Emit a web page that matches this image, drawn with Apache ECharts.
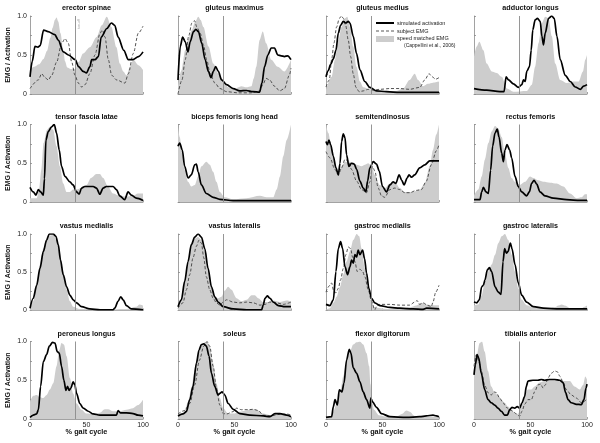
<!DOCTYPE html>
<html><head><meta charset="utf-8">
<script src="https://cdn.jsdelivr.net/npm/echarts@6/dist/echarts.min.js"></script>
<style>html,body{margin:0;padding:0;background:#fff}#c{width:600px;height:443px}</style>
</head><body><div id="c"></div>
<script>
// ---------- labels ----------
const muscles = ['erector spinae','gluteus maximus','gluteus medius','adductor longus',
  'tensor fascia latae','biceps femoris long head','semitendinosus','rectus femoris',
  'vastus medialis','vastus lateralis','gastroc medialis','gastroc lateralis',
  'peroneus longus','soleus','flexor digitorum','tibialis anterior'];
const seriesNames = ['simulated activation','subject EMG','speed matched EMG'];
const legendNote = '(Cappellini et al., 2006)';
const yTickValues = [0, 0.5, 1.0];
const yTickText = ['0', '0.5', '1.0'];
const xTickValues = [0, 50, 100];
const TOE_OFF = 40;
const yLabel = 'EMG / Activation';
const xLabel = '% gait cycle';

// ---------- data: [% gait cycle, value] ----------
const esEmg = [[0,0.32],[4,0.35],[8,0.38],[12,0.45],[15,0.55],[18,0.72],[20,0.85],[22,0.95],[23.5,0.98],[25,0.93],[27,0.78],[29.5,0.56],[31,0.42],[33,0.34],[36,0.32],[40,0.32],[43,0.41],[47,0.52],[53,0.6],[59,0.73],[63.5,0.88],[68,0.99],[72,0.86],[76.5,0.6],[79.5,0.39],[82.5,0.29],[85.5,0.24],[88.5,0.35],[91.5,0.44],[96,0.37],[100,0.31]];
const esSim = [[0,0.22],[2,0.42],[4.4,0.61],[7,0.6],[9,0.62],[12,0.82],[16,0.8],[22,0.76],[25,0.69],[29.5,0.54],[34,0.5],[40,0.44],[43,0.35],[47,0.29],[50,0.27],[53,0.35],[54.6,0.44],[57.5,0.44],[60.5,0.48],[63,0.73],[68,0.84],[72,0.91],[75,0.88],[78,0.73],[83,0.56],[87,0.44],[91,0.44],[96,0.48],[100,0.54]];
const esSubj = [[0,0.07],[7.4,0.18],[10.3,0.26],[13.3,0.21],[16.2,0.18],[19.2,0.24],[23.6,0.41],[28,0.65],[31,0.71],[33.9,0.65],[36.9,0.41],[39.8,0.24],[42.8,0.14],[45.7,0.09],[48.7,0.12],[53,0.26],[57.5,0.5],[62,0.78],[64,0.82],[66.4,0.73],[69.3,0.44],[72.3,0.24],[76.7,0.18],[84,0.14],[87,0.26],[91.4,0.52],[95.9,0.78],[100,0.87]];

const gmaxEmg = [[0,0.1],[3,0.3],[6.4,0.56],[9,0.7],[12.3,0.82],[15,0.92],[18,0.99],[20,0.95],[22.5,0.86],[27,0.61],[31.3,0.39],[35.7,0.26],[40,0.18],[44.4,0.085],[50.3,0.05],[53.2,0.085],[56,0.1],[60.5,0.085],[65,0.1],[67,0.2],[69.3,0.35],[72.2,0.69],[75,0.8],[78,0.65],[82.5,0.44],[88.3,0.35],[94.2,0.29],[100,0.44]];
const gmaxSim = [[0,0.18],[2,0.61],[4.1,0.73],[6.4,0.67],[8.8,0.54],[10.8,0.67],[13.7,0.8],[15.8,0.83],[18.1,0.8],[21,0.65],[24,0.44],[26.9,0.29],[29.2,0.21],[31.3,0.29],[33.3,0.35],[35.7,0.29],[38.6,0.18],[43,0.12],[48.8,0.07],[54.7,0.04],[60.5,0.045],[66.4,0.03],[72.2,0.025],[74.3,0.14],[76.6,0.35],[79.5,0.5],[82.5,0.59],[85.4,0.59],[88.3,0.5],[91.2,0.49],[94.2,0.48],[97,0.49],[100,0.44]];
const gmaxSubj = [[0,0],[3.5,0.18],[6.4,0.44],[9.4,0.74],[12.3,0.91],[14.6,0.94],[16.7,0.86],[19.6,0.78],[22.5,0.63],[25.4,0.44],[28.4,0.26],[32.7,0.14],[37.1,0.07],[43,0.03],[53.2,0.015],[65,0.015],[72.2,0.04],[75.1,0.12],[78,0.2],[81,0.18],[85.4,0.1],[90,0.04],[94.2,0.07],[98.5,0.24],[100,0.33]];

const gmedEmg = [[0,0.05],[5,0.22],[7.9,0.44],[10.9,0.69],[13.8,0.86],[16.8,0.97],[18.8,0.99],[21.2,0.86],[24.1,0.61],[27,0.35],[30,0.16],[33,0.085],[38.8,0.06],[44.7,0.04],[62.4,0.04],[68.2,0.07],[74,0.18],[78.5,0.26],[81.5,0.18],[85.9,0.1],[90.3,0.13],[94.7,0.145],[100,0.16]];
const gmedSim = [[0,0.22],[2,0.3],[4.1,0.38],[6.5,0.45],[8.8,0.56],[10.9,0.78],[12.9,0.88],[15.3,0.93],[17.4,0.91],[19.7,0.93],[21.2,0.91],[24.1,0.74],[27,0.52],[30,0.31],[34.4,0.16],[38.8,0.085],[44.7,0.04],[53.5,0.03],[65.3,0.02],[100,0.02]];
const gmedSubj = [[0,0.09],[2.9,0.18],[5,0.44],[7,0.65],[9.4,0.86],[11.8,0.97],[13.8,1.0],[15.3,0.97],[17.4,0.88],[19.7,0.69],[21.8,0.48],[24.1,0.26],[26.5,0.085],[29.4,0.03],[33,0.04],[37.4,0.06],[41.8,0.05],[47.6,0.06],[56.5,0.07],[65.3,0.07],[74,0.06],[83,0.085],[87.4,0.18],[91.2,0.26],[94,0.22],[97,0.19],[100,0.21]];

const addEmg = [[0,0.48],[2.4,0.61],[4.7,0.67],[8.3,0.56],[11.2,0.39],[15.7,0.29],[20.1,0.27],[24.6,0.22],[29,0.07],[34.9,0.03],[46.7,0.04],[51.2,0.12],[54.1,0.35],[57.1,0.65],[60.1,0.91],[63,0.99],[66,0.97],[68.9,0.74],[71.9,0.39],[76.3,0.18],[82.2,0.14],[88.2,0.16],[92.6,0.16],[96.4,0.29],[98.5,0.44],[100,0.5]];
const addSim = [[0,0.07],[11.2,0.05],[23,0.03],[26.6,0.03],[28.4,0.22],[30.5,0.18],[34.9,0.13],[39.3,0.085],[42.3,0.12],[43.8,0.18],[45.3,0.16],[46.7,0.29],[49.1,0.35],[50.6,0.56],[52,0.82],[54.1,0.95],[56.2,0.97],[58.6,0.93],[60.1,0.74],[61.5,0.63],[63,0.78],[66,0.97],[68.9,1.0],[71,0.97],[73.4,0.74],[76.3,0.44],[80.8,0.24],[85.2,0.16],[89.6,0.09],[94.1,0.06],[97,0.1],[100,0.12]];

const tflEmg = [[0,0.05],[6,0.05],[8,0.16],[10,0.41],[12,0.76],[15,0.93],[17.6,0.97],[20.6,0.93],[23.5,0.72],[26.5,0.46],[29.4,0.24],[32.4,0.13],[35.3,0.13],[38.2,0.16],[41.2,0.16],[45.6,0.18],[50,0.22],[54,0.31],[58.8,0.36],[61.8,0.36],[64.7,0.31],[69,0.2],[73.5,0.11],[79.4,0.08],[85.3,0.07],[91,0.08],[95.6,0.11],[100,0.11]];
const tflSim = [[0,0.19],[2.9,0.13],[5.3,0.09],[7.4,0.16],[9.4,0.13],[11.8,0.09],[12.8,0.3],[14.1,0.8],[16.2,0.91],[19.1,0.97],[21.5,1.0],[23.5,0.89],[25.9,0.67],[27.9,0.46],[30.9,0.33],[35.3,0.26],[38.2,0.22],[41.2,0.13],[43.5,0.1],[45.6,0.18],[48.5,0.2],[55.9,0.2],[58.8,0.18],[61.8,0.1],[64.7,0.18],[67.6,0.2],[73.5,0.2],[76.5,0.16],[79.4,0.08],[83.8,0.03],[86.8,0.13],[89.7,0.09],[94.1,0.05],[100,0.02]];

const bfEmg = [[0,0.97],[1.5,0.84],[3.8,0.63],[5.9,0.41],[8.9,0.26],[11.8,0.2],[14.8,0.22],[17.8,0.33],[20.7,0.46],[25.1,0.52],[28.1,0.48],[31.1,0.39],[34,0.26],[37,0.13],[41.4,0.06],[48.8,0.035],[60.7,0.05],[72.5,0.08],[78.4,0.06],[84.3,0.06],[87.3,0.16],[90.2,0.33],[93.2,0.59],[96.2,0.8],[100,1.0]];
const bfSim = [[0,0.72],[1.5,0.76],[3.8,0.67],[5.9,0.46],[8.9,0.31],[11.8,0.35],[14.8,0.48],[16.3,0.49],[17.8,0.39],[20.7,0.22],[25.1,0.11],[31.1,0.06],[37,0.035],[48.8,0.017],[100,0.017]];

const stEmg = [[0,1.0],[2.1,0.89],[5,0.67],[7.9,0.5],[10.9,0.35],[13.8,0.46],[16.8,0.52],[21.2,0.52],[27.1,0.48],[31.5,0.46],[34.4,0.48],[37.4,0.5],[40.3,0.46],[43.2,0.35],[47.6,0.22],[52,0.18],[56.5,0.24],[60.9,0.26],[65.3,0.18],[69.7,0.13],[77.1,0.13],[82.9,0.16],[87.4,0.24],[91.8,0.46],[94.7,0.67],[97.6,0.87],[100,1.0]];
const stSim = [[0,0.78],[1.2,0.74],[2.6,0.8],[4.1,0.74],[6.5,0.59],[8.8,0.44],[10.9,0.35],[12.4,0.5],[13.8,0.78],[15.3,0.88],[16.8,0.83],[18.2,0.61],[20.3,0.46],[22.6,0.5],[25,0.49],[27.1,0.42],[30,0.27],[32.9,0.18],[35.3,0.13],[36.8,0.27],[38.8,0.44],[41.8,0.52],[44.7,0.49],[47.1,0.4],[50,0.2],[53.5,0.13],[56.5,0.22],[59.4,0.26],[61.8,0.24],[64.7,0.35],[67,0.28],[69.1,0.22],[71.8,0.31],[73.5,0.35],[75.6,0.32],[78.5,0.35],[82.9,0.44],[87.4,0.48],[91.8,0.53],[95.6,0.53],[100,0.53]];
const stSubj = [[0,0.65],[3.5,0.57],[7.9,0.42],[10.9,0.35],[13.8,0.44],[16.8,0.55],[19.7,0.53],[22.6,0.42],[27.1,0.27],[31.5,0.16],[35.9,0.12],[38.8,0.26],[41.2,0.46],[43.2,0.4],[46.2,0.18],[49.1,0.08],[52,0.06],[56.5,0.16],[60.9,0.18],[65.3,0.16],[69.7,0.12],[74.1,0.12],[80,0.15],[84.4,0.16],[88.8,0.27],[93.2,0.48],[97.6,0.66],[100,0.74]];

const rfEmg = [[0,0.08],[3.8,0.16],[6.8,0.33],[9.7,0.55],[12.7,0.76],[15.6,0.91],[18.6,0.98],[21.5,0.95],[24.5,0.84],[27.4,0.63],[30.4,0.44],[33.3,0.31],[36.3,0.26],[40.7,0.22],[45.1,0.26],[49.6,0.33],[52.5,0.31],[56.9,0.28],[61.4,0.26],[67.3,0.25],[73.2,0.24],[79,0.2],[85,0.11],[90.9,0.05],[95.3,0.06],[98.2,0.1],[100,0.1]];
const rfSim = [[0,0.03],[5.3,0.03],[6.8,0.13],[8.3,0.19],[10.6,0.13],[12.7,0.11],[14.7,0.41],[16.5,0.72],[18.6,0.89],[20.6,0.94],[22.1,0.84],[24.5,0.63],[26,0.52],[27.4,0.67],[29.2,0.74],[31.6,0.67],[33.3,0.57],[36.3,0.33],[39.2,0.2],[42.2,0.13],[46.6,0.08],[49,0.13],[51,0.24],[53.1,0.28],[55.5,0.23],[58.4,0.13],[62.8,0.08],[70.2,0.05],[82,0.03],[94,0.02],[100,0.02]];

const vmEmg = [[0,0.01],[2.9,0.12],[5.9,0.33],[8.8,0.6],[11.8,0.81],[14.7,0.92],[17.6,0.98],[20.6,0.99],[23.5,0.92],[26.5,0.75],[29.4,0.51],[32.4,0.27],[35.3,0.12],[38.2,0.05],[44.1,0.02],[62,0.01],[85,0.02],[94,0.05],[97,0.08],[100,0.065]];
const vmSim = [[0,0.03],[2.9,0.16],[5.9,0.33],[8.8,0.55],[11.8,0.77],[14.7,0.92],[17,1.0],[20.6,1.0],[22.9,0.97],[25,0.86],[27,0.66],[29.4,0.47],[32.4,0.31],[35.3,0.2],[38.2,0.14],[41.2,0.1],[45.6,0.05],[52.9,0.02],[62,0.01],[73.5,0.01],[75,0.03],[77.9,0.12],[80.3,0.18],[82.4,0.14],[85.3,0.065],[89.7,0.02],[100,0.01]];

const vlEmg = [[0,0.07],[3,0.14],[5.9,0.38],[8.9,0.62],[11.8,0.83],[14.8,0.94],[17.8,0.96],[20.7,0.92],[23.7,0.77],[26.6,0.51],[29.6,0.29],[32.5,0.18],[35.5,0.16],[38.5,0.18],[41.4,0.26],[44.4,0.31],[47.3,0.27],[51.8,0.16],[56.2,0.12],[60.7,0.14],[65.1,0.2],[68,0.2],[71,0.16],[75.4,0.11],[79.9,0.11],[84.3,0.13],[90.2,0.11],[96.2,0.13],[100,0.12]];
const vlSim = [[0,0.05],[3,0.14],[5.9,0.38],[8.9,0.64],[11.8,0.86],[14.8,0.96],[17.8,1.0],[20.7,0.96],[23.7,0.81],[26.6,0.55],[29.6,0.31],[32.5,0.18],[35.5,0.11],[40,0.05],[48.8,0.02],[60.7,0.01],[74,0.01],[75.4,0.07],[77,0.16],[79,0.19],[81.4,0.16],[84.3,0.11],[88.8,0.065],[94.7,0.05],[100,0.05]];
const vlSubj = [[0,0.03],[4.4,0.1],[7.4,0.27],[10.4,0.47],[13.3,0.69],[16.3,0.84],[18.6,0.92],[20.7,0.88],[22.8,0.69],[25.1,0.44],[28.1,0.27],[31.1,0.16],[34,0.1],[37,0.07],[40,0.11],[43,0.14],[48.8,0.11],[54.7,0.1],[60.7,0.11],[66.6,0.1],[72.5,0.07],[77,0.08],[81.4,0.11],[87.3,0.1],[93.2,0.08],[100,0.11]];

const gmEmg = [[0,0.01],[3.5,0.03],[6.5,0.1],[9.4,0.18],[12.4,0.31],[15.3,0.47],[18.2,0.64],[21.2,0.77],[24.1,0.92],[27.1,1.0],[29.4,0.97],[31.5,0.81],[34.4,0.55],[37.4,0.29],[40.3,0.11],[43.2,0.04],[53.5,0.02],[65.3,0.03],[74.1,0.04],[80,0.065],[84.4,0.1],[88.8,0.08],[94.7,0.07],[100,0.07]];
const gmSim = [[0,0.08],[3.5,0.065],[6.5,0.14],[8.8,0.51],[10.9,0.81],[12.9,0.9],[14.7,0.81],[16.8,0.57],[19.1,0.47],[21.2,0.57],[22.6,0.66],[24.1,0.62],[25.6,0.73],[27.1,0.7],[28.5,0.79],[30,0.73],[32.4,0.79],[34.1,0.68],[35.9,0.49],[37.9,0.29],[40.3,0.16],[43.2,0.1],[47.6,0.065],[56.5,0.04],[65.3,0.03],[77,0.02],[86,0.015],[89,0.03],[100,0.02]];
const gmSubj = [[0,0.24],[2.1,0.31],[5,0.36],[6.5,0.27],[8.8,0.23],[10.9,0.29],[12.9,0.4],[15.3,0.55],[17.6,0.73],[19.7,0.83],[21.8,0.81],[23.5,0.7],[25.6,0.64],[27.6,0.51],[30,0.54],[32.4,0.51],[34.4,0.44],[37.4,0.27],[40.3,0.12],[43.2,0.01],[45.3,0.07],[47.6,0.08],[56.5,0.08],[65.3,0.07],[74.1,0.07],[78.5,0.11],[80.6,0.13],[82.9,0.08],[85.9,0.1],[90.3,0.065],[93.2,0.05],[94.7,0.11],[97.1,0.24],[100,0.33]];

const glEmg = [[0,0.07],[3.8,0.08],[6.8,0.2],[9.7,0.38],[12.7,0.51],[15.6,0.6],[18.6,0.73],[21.5,0.88],[24.5,0.97],[27.4,1.0],[30.4,0.92],[33.3,0.73],[36.3,0.51],[39.2,0.29],[42.2,0.14],[46.6,0.07],[52.5,0.04],[64,0.03],[71.7,0.04],[74.6,0.065],[77.6,0.08],[80.5,0.065],[85,0.03],[94,0.02],[98,0.05],[100,0.065]];
const glSim = [[0,0.11],[2.4,0.1],[4.7,0.14],[6.8,0.31],[8.3,0.33],[9.7,0.4],[11.8,0.53],[13.6,0.56],[15.6,0.51],[18.6,0.31],[21.5,0.24],[23.9,0.21],[25.7,0.64],[27.1,0.81],[28.6,0.75],[30.1,0.77],[32.2,0.88],[33.6,0.81],[36.3,0.6],[39.2,0.36],[42.2,0.2],[46.6,0.11],[52.5,0.05],[61.4,0.03],[76.1,0.02],[100,0.02]];

const plEmg = [[0,0.22],[2.9,0.3],[5.9,0.31],[8.8,0.28],[11.8,0.27],[14.7,0.31],[17.6,0.38],[20.6,0.46],[23.5,0.68],[25.9,0.89],[27.9,0.98],[30,0.96],[32.4,0.81],[35.3,0.53],[38.2,0.33],[41.2,0.2],[45.6,0.12],[50,0.07],[55.9,0.065],[61.8,0.08],[66.2,0.125],[69.1,0.125],[73.5,0.1],[79.4,0.1],[85.3,0.12],[91.2,0.14],[95.6,0.18],[100,0.25]];
const plSim = [[0,0.02],[2.9,0.05],[5.9,0.065],[7.4,0.12],[9.4,0.42],[11.8,0.74],[14.7,0.83],[17.1,0.94],[20,0.99],[22.1,0.98],[24.1,0.87],[25.9,0.85],[27.9,0.68],[30,0.5],[31.8,0.37],[33.2,0.42],[34.7,0.37],[36.2,0.4],[38.2,0.48],[39.7,0.44],[41.2,0.33],[44.1,0.2],[47.1,0.14],[51.5,0.1],[55.9,0.065],[61.8,0.05],[76.5,0.05],[78,0.11],[80,0.08],[85.3,0.08],[91.2,0.07],[95.6,0.05],[100,0.04]];

const soEmg = [[0,0.03],[3,0.05],[5.9,0.12],[8.9,0.22],[11.8,0.4],[14.8,0.63],[17.8,0.83],[20.7,0.94],[23.7,0.99],[25.7,1.0],[28.1,0.94],[31.1,0.72],[34,0.46],[37,0.27],[40,0.14],[44.4,0.07],[48.8,0.07],[54.7,0.095],[60.7,0.11],[65.1,0.125],[69.5,0.12],[75.4,0.07],[81.4,0.05],[87.3,0.065],[93.2,0.065],[100,0.04]];
const soSim = [[0,0.04],[4.4,0.065],[7.4,0.095],[10.4,0.25],[13.3,0.42],[16.3,0.72],[18.6,0.89],[20.7,0.96],[22.8,0.97],[25.1,0.94],[27.5,0.81],[29.6,0.59],[32.5,0.42],[35.5,0.31],[37,0.33],[39,0.35],[41.4,0.31],[44.4,0.2],[48.8,0.125],[54.7,0.07],[63.6,0.05],[75.4,0.04],[81.4,0.03],[85.8,0.07],[90.2,0.07],[96.2,0.05],[100,0.03]];
const soSubj = [[0,0.065],[5.9,0.11],[10.4,0.2],[14.8,0.44],[19,0.76],[22.8,0.94],[25.7,1.0],[28.1,0.94],[31.1,0.68],[34,0.4],[37,0.18],[40,0.07],[43,0.065],[48.8,0.095],[51.8,0.14],[56.2,0.12],[62.1,0.12],[66.6,0.125],[71,0.11],[75.4,0.05],[81.4,0.04],[90.2,0.06],[96.2,0.065],[100,0.05]];

const fdEmg = [[0,0.02],[3.5,0.03],[6.5,0.095],[9.4,0.2],[12.4,0.33],[15.3,0.55],[18.2,0.76],[21.2,0.87],[24.1,0.96],[27.1,0.99],[30,1.0],[32.9,0.96],[35.9,0.85],[38.2,0.68],[39.4,0.45],[40.3,0.29],[42.4,0.12],[46.8,0.05],[53.5,0.03],[62.4,0.03],[67.1,0.065],[71.2,0.11],[74.1,0.095],[78.5,0.04],[89,0.03],[100,0.03]];
const fdSim = [[0,0.02],[5,0.03],[6.5,0.16],[8,0.25],[10,0.18],[11.8,0.375],[14.1,0.35],[15.9,0.46],[18.2,0.76],[20.6,0.9],[22.1,0.85],[24.1,0.66],[27.1,0.59],[30,0.48],[32.9,0.35],[35.9,0.25],[38.8,0.14],[39.7,0.27],[41.2,0.22],[44.7,0.15],[49.1,0.07],[56.5,0.03],[71.2,0.02],[82.9,0.03],[88.8,0.04],[94.7,0.05],[97.6,0.04],[100,0.03]];

const taEmg = [[0,0.75],[2,0.79],[5,0.98],[7.1,1.0],[9.4,0.87],[12.4,0.62],[15.3,0.42],[18.3,0.34],[21.2,0.31],[24.2,0.25],[27.1,0.21],[30.1,0.16],[33,0.12],[36,0.08],[38.9,0.065],[41.9,0.16],[44.8,0.31],[47.8,0.38],[50.7,0.38],[53.7,0.42],[58.1,0.47],[62.5,0.49],[68.4,0.5],[74.3,0.5],[80.2,0.49],[84.7,0.49],[89,0.42],[93.5,0.38],[96.5,0.44],[98.5,0.55],[100,0.51]];
const taSim = [[0,0.57],[1.2,0.7],[2.7,0.83],[4.1,0.79],[6.5,0.59],[9.4,0.38],[12.4,0.25],[15.3,0.21],[18.3,0.18],[21.2,0.14],[24.2,0.1],[27.1,0.05],[29.5,0.05],[31.6,0.12],[33.6,0.15],[36,0.14],[38.3,0.16],[40.4,0.14],[42.5,0.21],[44.8,0.29],[46.3,0.42],[47.8,0.49],[52.2,0.5],[56.6,0.5],[59.6,0.51],[62.5,0.5],[66.9,0.51],[71.4,0.51],[75.8,0.5],[78.8,0.47],[81.1,0.34],[83.2,0.25],[86.1,0.21],[90.6,0.19],[95,0.185],[97.3,0.25],[99.1,0.4],[100,0.45]];
const taSubj = [[0,0.68],[2,0.83],[4.1,0.75],[6.5,0.62],[9.4,0.44],[12.4,0.34],[15.3,0.31],[17.7,0.35],[19.8,0.34],[22.7,0.27],[25.7,0.21],[28.6,0.15],[31.6,0.12],[34.5,0.1],[37.5,0.065],[40.4,0.035],[42.5,0.1],[44.8,0.19],[47.8,0.25],[50.7,0.25],[53.7,0.35],[56.6,0.44],[59,0.45],[61.1,0.4],[63.1,0.44],[65.5,0.53],[68.4,0.59],[71.4,0.62],[73.7,0.61],[76.1,0.55],[79,0.47],[81.7,0.38],[86.1,0.31],[90.6,0.27],[95,0.21],[97.9,0.23],[100,0.27]];

// ---------- assemble ----------
const panelData = [
  [esEmg, esSim, esSubj], [gmaxEmg, gmaxSim, gmaxSubj], [gmedEmg, gmedSim, gmedSubj], [addEmg, addSim, null],
  [tflEmg, tflSim, null], [bfEmg, bfSim, null], [stEmg, stSim, stSubj], [rfEmg, rfSim, null],
  [vmEmg, vmSim, null], [vlEmg, vlSim, vlSubj], [gmEmg, gmSim, gmSubj], [glEmg, glSim, null],
  [plEmg, plSim, null], [soEmg, soSim, soSubj], [fdEmg, fdSim, null], [taEmg, taSim, taSubj]
];

const FONT = '"Liberation Sans", Arial, Helvetica, sans-serif';
const colLeft = [30, 178, 326, 474];
const plotW = 113;
const rowTop = [16, 124.5, 234, 341.5];
const rowH = [78, 77.5, 76.5, 77.5];
const GRAY = '#cdcdcd';
const AXIS = '#8a8a8a';

const grids = [], xAxes = [], yAxes = [], series = [], graphics = [];

panelData.forEach((pd, i) => {
  const r = Math.floor(i / 4), c = i % 4;
  grids.push({ left: colLeft[c], top: rowTop[r], width: plotW, height: rowH[r], containLabel: false });
  xAxes.push({
    gridIndex: i, type: 'value', min: 0, max: 100, interval: 50,
    axisLine: { show: true, lineStyle: { color: AXIS, width: 0.8 } },
    axisTick: { show: true, inside: true, length: 2, lineStyle: { color: AXIS, width: 0.8 } },
    axisLabel: { show: r === 3, fontSize: 7, fontFamily: FONT, color: '#222', margin: 3,
      formatter: v => xTickValues.includes(v) ? String(v) : '' },
    splitLine: { show: false }
  });
  yAxes.push({
    gridIndex: i, type: 'value', min: 0, max: 1, interval: 0.25,
    axisLine: { show: true, lineStyle: { color: AXIS, width: 0.8 } },
    axisTick: { show: true, inside: true, length: 2, lineStyle: { color: AXIS, width: 0.8 } },
    axisLabel: { show: c === 0, fontSize: 7, fontFamily: FONT, color: '#222', margin: 3,
      formatter: v => { const k = yTickValues.indexOf(v); return k >= 0 ? yTickText[k] : ''; } },
    splitLine: { show: false }
  });
  series.push({
    name: seriesNames[2], type: 'line', xAxisIndex: i, yAxisIndex: i, data: pd[0],
    showSymbol: false, symbol: 'none', smooth: 0.3, smoothMonotone: 'x', silent: true, z: 1,
    lineStyle: { width: 0, color: GRAY }, areaStyle: { color: GRAY, opacity: 1 },
    markLine: { silent: true, symbol: ['none', 'none'], label: { show: false },
      lineStyle: { color: AXIS, width: 0.9, type: 'solid' }, data: [{ xAxis: TOE_OFF }] }
  });
  if (pd[2]) series.push({
    name: seriesNames[1], type: 'line', xAxisIndex: i, yAxisIndex: i, data: pd[2],
    showSymbol: false, symbol: 'none', smooth: 0.3, smoothMonotone: 'x', silent: true, z: 3,
    lineStyle: { width: 0.9, color: '#404040', type: [3, 2] }
  });
  series.push({
    name: seriesNames[0], type: 'line', xAxisIndex: i, yAxisIndex: i, data: pd[1],
    showSymbol: false, symbol: 'none', smooth: 0.3, smoothMonotone: 'x', silent: true, z: 4,
    lineStyle: { width: 1.7, color: '#000' }
  });
  // title
  graphics.push({ type: 'text', x: colLeft[c] + plotW / 2, y: rowTop[r] - 7.5, z: 100,
    style: { text: muscles[i], font: 'bold 7.2px ' + FONT, fill: '#111', textAlign: 'center', textVerticalAlign: 'middle' } });
  if (c === 0) graphics.push({ type: 'text', x: 8.5, y: rowTop[r] + rowH[r] / 2, rotation: Math.PI / 2, z: 100,
    style: { text: yLabel, font: 'bold 7px ' + FONT, fill: '#111', textAlign: 'center', textVerticalAlign: 'middle' } });
  if (r === 3) graphics.push({ type: 'text', x: colLeft[c] + plotW / 2, y: 431.5, z: 100,
    style: { text: xLabel, font: 'bold 7.3px ' + FONT, fill: '#111', textAlign: 'center', textVerticalAlign: 'middle' } });
});

// legend (inside gluteus medius panel)
graphics.push(
  { type: 'line', z: 100, shape: { x1: 376, y1: 23, x2: 394, y2: 23 }, style: { stroke: '#000', lineWidth: 2 } },
  { type: 'text', z: 100, x: 397, y: 23, style: { text: seriesNames[0], font: '5.5px ' + FONT, fill: '#222', textAlign: 'left', textVerticalAlign: 'middle' } },
  { type: 'line', z: 100, shape: { x1: 376, y1: 31, x2: 394, y2: 31 }, style: { stroke: '#444', lineWidth: 0.9, lineDash: [3, 2] } },
  { type: 'text', z: 100, x: 397, y: 31, style: { text: seriesNames[1], font: '5.5px ' + FONT, fill: '#222', textAlign: 'left', textVerticalAlign: 'middle' } },
  { type: 'rect', z: 100, shape: { x: 376, y: 36, width: 18, height: 6 }, style: { fill: GRAY } },
  { type: 'text', z: 100, x: 397, y: 38.7, style: { text: seriesNames[2], font: '5.5px ' + FONT, fill: '#222', textAlign: 'left', textVerticalAlign: 'middle' } },
  { type: 'text', z: 100, x: 404, y: 46, style: { text: legendNote, font: '5px ' + FONT, fill: '#222', textAlign: 'left', textVerticalAlign: 'middle' } },
  { type: 'text', z: 100, x: 78.7, y: 24, rotation: Math.PI / 2, style: { text: 'toe-off', font: '3.5px ' + FONT, fill: '#999', textAlign: 'center', textVerticalAlign: 'middle' } }
);

const chart = echarts.init(document.getElementById('c'), null, { renderer: 'canvas' });
chart.setOption({
  animation: false,
  backgroundColor: '#fff',
  grid: grids, xAxis: xAxes, yAxis: yAxes, series: series, graphic: graphics
});
</script>
</body></html>
